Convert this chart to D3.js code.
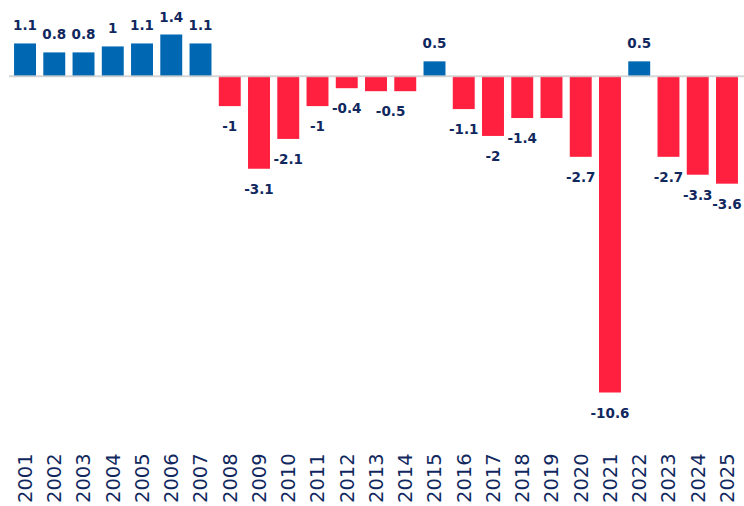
<!DOCTYPE html>
<html><head><meta charset="utf-8">
<script src="https://cdn.jsdelivr.net/npm/d3@7/dist/d3.min.js"></script>
<style>html,body{margin:0;padding:0;background:#fff;}</style>
</head><body>
<svg id="chart" width="744" height="506"></svg>
<script>
const years = ["2001","2002","2003","2004","2005","2006","2007","2008","2009","2010","2011","2012","2013","2014","2015","2016","2017","2018","2019","2020","2021","2022","2023","2024","2025"];
const values = [1.1,0.8,0.8,1,1.1,1.4,1.1,-1,-3.1,-2.1,-1,-0.4,-0.5,-0.5,0.5,-1.1,-2,-1.4,-1.4,-2.7,-10.6,0.5,-2.7,-3.3,-3.6];
const labels = ["1.1","0.8","0.8","1","1.1","1.4","1.1","-1","-3.1","-2.1","-1","-0.4",null,"-0.5","0.5","-1.1","-2","-1.4",null,"-2.7","-10.6","0.5","-2.7","-3.3","-3.6"];
// pairs of equal bars sharing one label
const sharedLabels = [["2013","2014"],["2018","2019"]];

const svg = d3.select("#chart");
const x = d3.scaleBand().domain(years).range([10.4, 741.6]).paddingInner(0.25).paddingOuter(0.125);
const y = d3.scaleLinear().domain([-10.6, 1.4]).range([392.5, 34.5]);

const blue = "#0067b3", red = "#ff1f3f", navy = "#10285e";
const font = "'DejaVu Sans', Verdana, sans-serif";

svg.append("g").selectAll("rect").data(values).join("rect")
  .attr("x", (d,i) => x(years[i]))
  .attr("width", x.bandwidth())
  .attr("y", d => y(Math.max(0,d)))
  .attr("height", d => Math.abs(y(d) - y(0)))
  .attr("fill", d => d >= 0 ? blue : red);

svg.append("line")
  .attr("x1", 9).attr("x2", 744)
  .attr("y1", y(0)).attr("y2", y(0))
  .attr("stroke", "#cfcfcf").attr("stroke-opacity", 0.85).attr("stroke-width", 2);

function labelX(i){
  const yr = years[i];
  const pair = sharedLabels.find(p => p[1] === yr);
  if (pair) return (x(pair[0]) + x(pair[1])) / 2 + x.bandwidth()/2;
  return x(yr) + x.bandwidth()/2;
}

svg.append("g").selectAll("text").data(values.map((v,i)=>({v,i,t:labels[i]})).filter(d=>d.t!==null)).join("text")
  .attr("x", d => labelX(d.i))
  .attr("y", d => d.v >= 0 ? y(d.v) - 17 : y(d.v) + 21)
  .attr("text-anchor", "middle")
  .attr("dominant-baseline", "middle")
  .attr("font-family", font)
  .attr("font-weight", "bold")
  .attr("font-size", "13.5px")
  .attr("fill", navy)
  .text(d => d.t);

const axis = d3.axisBottom(x).tickSize(0).tickPadding(0);
const ax = svg.append("g").attr("transform", "translate(0,503)").call(axis);
ax.select(".domain").remove();
ax.selectAll("text")
  .attr("transform", "rotate(-90)")
  .attr("x", 0).attr("y", 0).attr("dy", "0.35em")
  .attr("text-anchor", "start")
  .attr("font-family", font)
  .attr("font-size", "19.5px")
  .attr("fill", navy);
</script>
</body></html>
